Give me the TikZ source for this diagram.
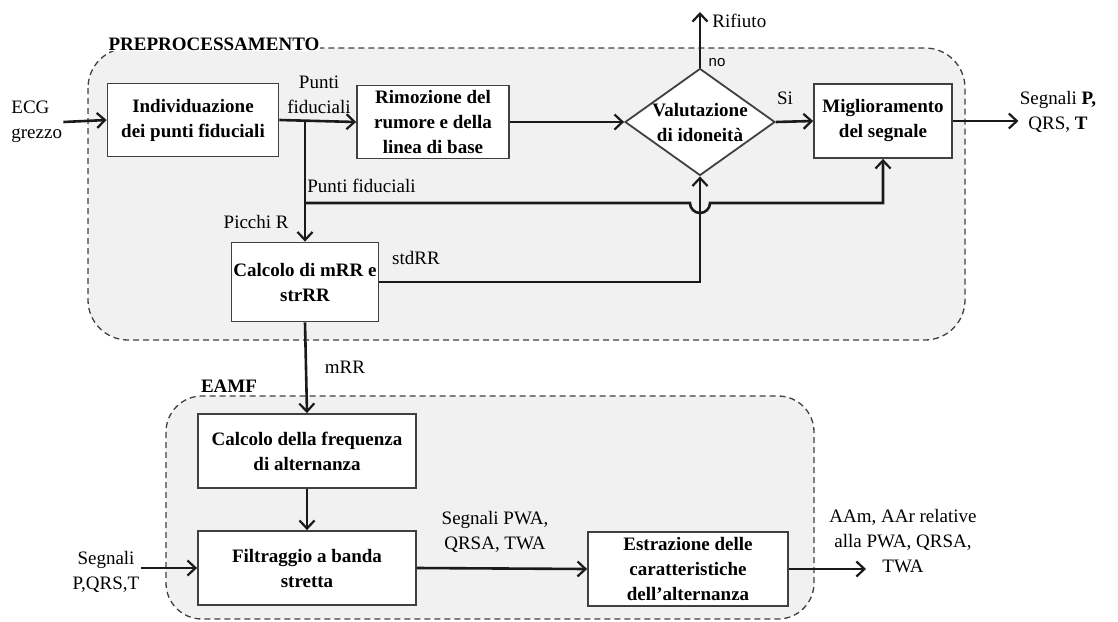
\documentclass[tikz,border=0pt]{standalone}
\usepackage{fontspec}
\setmainfont{Liberation Serif}
\newfontfamily\nofont{Liberation Sans}
\usetikzlibrary{arrows,arrows.meta,shapes.geometric}
\definecolor{regiongray}{HTML}{F1F1F1}
\definecolor{linegray}{HTML}{1A1A1A}
\definecolor{boxgray}{HTML}{404040}

\begin{document}
\begin{tikzpicture}[x=1pt, y=-1pt, thick,
  font=\fontsize{19}{25}\selectfont,
  >={Straight Barb[length=8pt,width=15pt,line width=2.2pt]},
  block/.style = {draw=boxgray, line width=1.8pt, fill=white, font=\fontsize{19}{25}\selectfont\bfseries, align=center, inner sep=2pt},
  decision/.style = {draw=boxgray, line width=1.8pt, fill=white, diamond, inner sep=0pt},
  lbl/.style = {align=center, inner sep=1pt},
  region/.style = {draw=boxgray, line width=1.3pt, dash pattern=on 6pt off 4pt, fill=regiongray, rounded corners=40pt},
  conn/.style = {draw=linegray, line width=2.6pt}]
\useasboundingbox (0,0) rectangle (1118,621);

% gruppi
\path[region] (88,48) rectangle (965,340);
\path[region, rounded corners=36pt] (166,396) rectangle (814,619);
\node[fill=white, inner sep=1pt, font=\fontsize{19}{25}\selectfont\bfseries] (pretitle) at (214,44) {PREPROCESSAMENTO};
\node[fill=white, inner sep=1pt, font=\fontsize{19}{25}\selectfont\bfseries] (eamftitle) at (229,386) {EAMF};

% blocchi
\node[block, minimum width=171, minimum height=73] (ind) at (193,120) {Individuazione\\dei punti fiduciali};
\node[block, minimum width=152, minimum height=73] (rim) at (433,122) {Rimozione del\\rumore e della\\linea di base};
\node[decision, minimum width=150, minimum height=107] (val) at (700,122) {};
\node[lbl, font=\fontsize{19}{25}\selectfont\bfseries] (valtext) at (val) {Valutazione\\di idoneità};
\node[block, minimum width=138, minimum height=74] (mig) at (883,121) {Miglioramento\\del segnale};
\node[block, minimum width=147, minimum height=79] (cal) at (305,282) {Calcolo di mRR e\\strRR};
\node[block, minimum width=218, minimum height=74] (freq) at (307,451) {Calcolo della frequenza\\di alternanza};
\node[block, minimum width=218, minimum height=74] (fil) at (307,568) {Filtraggio a banda\\stretta};
\node[block, minimum width=200, minimum height=74] (est) at (688,569) {Estrazione delle\\caratteristiche\\dell’alternanza};

% etichette
\node[lbl, align=left, anchor=west] (ecg) at (10,122) {ECG\\grezzo};
\node[lbl] (pf1) at (319,95) {Punti\\fiduciali};
\node[lbl, anchor=west] (pf2) at (306,186) {Punti fiduciali};
\node[lbl, anchor=east] (picchi) at (290,222) {Picchi R};
\node[lbl] (std) at (416,258) {stdRR};
\node[lbl, anchor=west] (rif) at (711,21) {Rifiuto};
\node[lbl, font=\nofont\fontsize{15}{17}\selectfont] (no) at (717,63) {no};
\node[lbl] (si) at (785,98) {Si};
\node[lbl] (segout) at (1058,112) {Segnali \textbf{P,}\\QRS, \textbf{T}};
\node[lbl] (mrr) at (345,367) {mRR};
\node[lbl] (segin) at (106,572) {Segnali\\P,QRS,T};
\node[lbl] (pwa) at (495,532) {Segnali PWA,\\QRSA, TWA};
\node[lbl] (aa) at (903,541) {AAm, AAr relative\\alla PWA, QRSA,\\TWA};
\coordinate (rifend) at (700,12);
\coordinate (aaend) at (866,569);
\coordinate (br) at (305,122);
\coordinate (fp) at (305,203);

% collegamenti
\draw[conn, ->] (ecg.east) -- (ind.west);
\draw[conn, ->] (ind.east) -- (rim.west);
\draw[conn, ->] (rim.east) -- (val.west);
\draw[conn, ->] (val.east) -- (mig.west);
\draw[conn, ->] (val.north) -- (rifend);
\draw[conn, ->] (mig.east) -- (mig.east -| segout.west);
\draw[conn, ->] (br) -- (cal.north);
\draw[conn, ->] (fp) -- ([xshift=-10pt]val.south |- fp) arc[start angle=180, end angle=360, radius=10pt] -- (mig.south |- fp) -- (mig.south);
\draw[conn, ->] (cal.east) -- (val.south |- cal.east) -- (val.south);
\draw[conn, ->] (cal.south) -- (freq.north);
\draw[conn, ->] (freq) -- (fil);
\draw[conn, ->] (segin.east |- fil.west) -- (fil.west);
\draw[conn, ->] (fil.east) -- (est.west);
\draw[conn, ->] (est.east) -- (aaend);

\end{tikzpicture}
\end{document}
